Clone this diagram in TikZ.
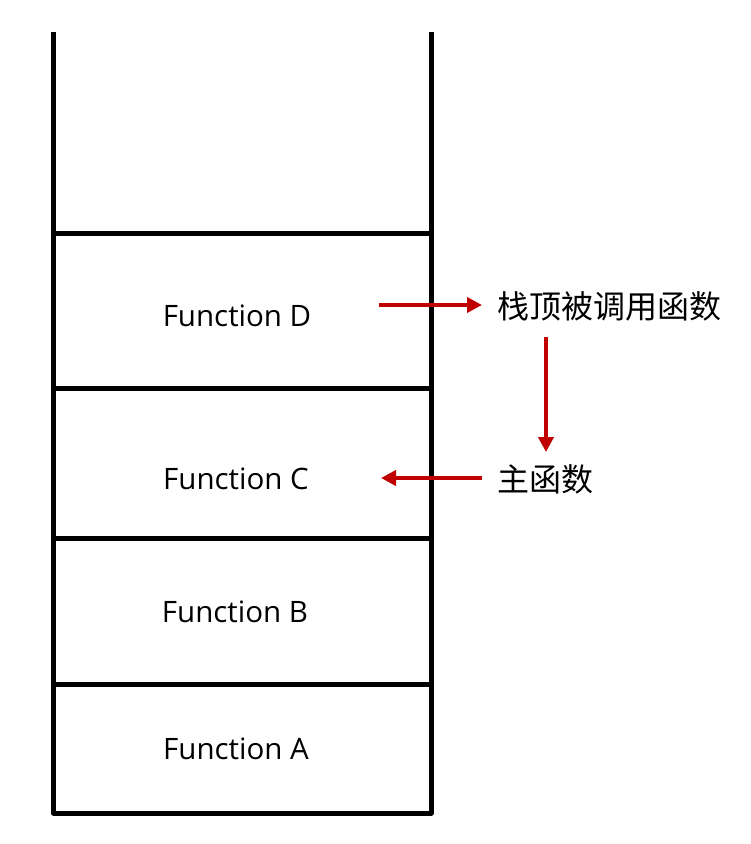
\documentclass[tikz,border=0pt]{standalone}
\usepackage{fontspec}
\setmainfont{Open Sans}
\newfontfamily\cjkfont{Noto Sans CJK SC}
\usetikzlibrary{arrows.meta}
\definecolor{arrred}{HTML}{C00000}
\begin{document}
\begin{tikzpicture}[x=1pt,y=-1pt,
  wall/.style={line width=5pt,black},
  redarrow/.style={line width=4pt,arrred,-{Triangle[length=15pt,width=15pt]}},
  label/.style={font=\fontsize{29.5}{32}\selectfont,inner sep=0pt},
  cjk/.style={font=\cjkfont\fontsize{32}{36}\selectfont,inner sep=0pt,anchor=west}]
\useasboundingbox (0,0) rectangle (751,844);
\coordinate (tl) at (53.5,32);
\coordinate (tr) at (431,32);
\coordinate (bl) at (53.5,813);
\coordinate (br) at (431,813);
\draw[wall,line join=round] (tl) -- (bl) -- (br) -- (tr);
\foreach \y/\n in {233/s1,388/s2,538/s3,684/s4}{
  \coordinate (\n l) at (53.5,\y);
  \coordinate (\n r) at (431,\y);
  \draw[wall] (\n l) -- (\n r);
}
\node[label] (fd) at (237,316) {Function D};
\node[label] (fc) at (236,479) {Function C};
\node[label] (fb) at (235,612) {Function B};
\node[label] (fa) at (236,749) {Function A};
\node[cjk] (top) at (497,306) {栈顶被调用函数};
\node[cjk] (main) at (497,479) {主函数};
\coordinate (a1s) at (379,305);
\coordinate (a1e) at (482,305);
\draw[redarrow] (a1s) -- (a1e);
\coordinate (a2s) at (482,478);
\coordinate (a2e) at (381,478);
\draw[redarrow] (a2s) -- (a2e);
\coordinate (a3s) at (546,337);
\coordinate (a3e) at (546,452);
\draw[redarrow] (a3s) -- (a3e);
\end{tikzpicture}
\end{document}
